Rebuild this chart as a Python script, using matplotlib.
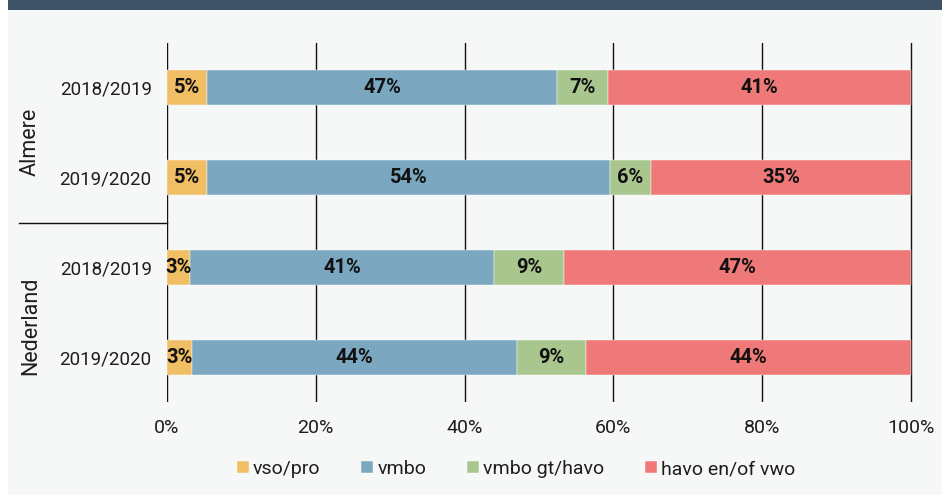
import matplotlib
matplotlib.use("Agg")
import matplotlib.pyplot as plt
from matplotlib.patches import Rectangle
from matplotlib.lines import Line2D

plt.rcParams['font.family'] = ['Roboto', 'DejaVu Sans']

# Data (percentages per school type)
years = ["2018/2019", "2019/2020", "2018/2019", "2019/2020"]
groups = ["Almere", "Nederland"]
categories = ["vso/pro", "vmbo", "vmbo gt/havo", "havo en/of vwo"]
vso_pro = [5.4, 5.4, 3.1, 3.3]
vmbo = [47.0, 54.1, 40.9, 43.7]
vmbo_gt_havo = [6.9, 5.6, 9.4, 9.4]
havo_vwo = [40.7, 34.9, 46.6, 43.6]
x_ticks = [0, 20, 40, 60, 80, 100]

colors = ["#f0be65", "#7ba8c0", "#aac68f", "#ef7979"]
series = [vso_pro, vmbo, vmbo_gt_havo, havo_vwo]

fig = plt.figure(figsize=(9.42, 4.95), dpi=100, facecolor="white")

# background panel and top band
fig.add_artist(Rectangle((8 / 942, 0), 1, 1, transform=fig.transFigure,
                         facecolor="#f6f7f7", edgecolor="none", zorder=-10))
fig.add_artist(Rectangle((8 / 942, 1 - 10 / 495), 1, 10 / 495, transform=fig.transFigure,
                         facecolor="#3e5466", edgecolor="none", zorder=-9))

ax = fig.add_axes([167 / 942, 93 / 495, 746 / 942, 359 / 495])
ax.set_facecolor("none")

ypos = list(range(len(years)))
left = [0] * len(years)
for vals, col, name in zip(series, colors, categories):
    ax.barh(ypos, vals, left=left, height=0.39, color=col, label=name,
            edgecolor="white", linewidth=0.3, zorder=3)
    for y, v, l in zip(ypos, vals, left):
        ax.text(l + v / 2, y, f"{v:.0f}%", ha="center", va="center",
                fontsize=14.5, fontweight="bold", color="#111111", zorder=4)
    left = [a + b for a, b in zip(left, vals)]

ax.set_xlim(0, 100.3)
ax.set_ylim(3.5, -0.5)
ax.set_xticks(x_ticks)
ax.set_xticklabels([f"{t}%" for t in x_ticks])
ax.set_yticks(ypos)
ax.set_yticklabels(years)
ax.tick_params(axis="both", length=0, labelsize=13.5, labelcolor="#1e1e1e")
ax.tick_params(axis="x", pad=12, labelsize=14)
ax.tick_params(axis="y", pad=11)
for s in ax.spines.values():
    s.set_visible(False)
ax.grid(axis="x", color="#111111", linewidth=1.0, zorder=0)
ax.set_axisbelow(True)

# group labels and separator
ax.text(-0.183, 0.6, groups[0], transform=ax.get_yaxis_transform(), rotation=90,
        ha="center", va="center", fontsize=15.5, color="#1e1e1e")
ax.text(-0.183, 2.65, groups[1], transform=ax.get_yaxis_transform(), rotation=90,
        ha="center", va="center", fontsize=15.5, color="#1e1e1e")
ax.add_line(Line2D([-0.198, 0], [1.5, 1.5], transform=ax.get_yaxis_transform(),
                   color="#111111", linewidth=1.0, clip_on=False))

fig.legend(loc="center", bbox_to_anchor=(516 / 942, 26 / 495), ncol=4, frameon=False,
           fontsize=14, handlelength=0.62, handleheight=0.62, handletextpad=0.2,
           columnspacing=2.1, labelcolor="#1e1e1e")

fig.savefig("out.png", dpi=100, facecolor=fig.get_facecolor())
